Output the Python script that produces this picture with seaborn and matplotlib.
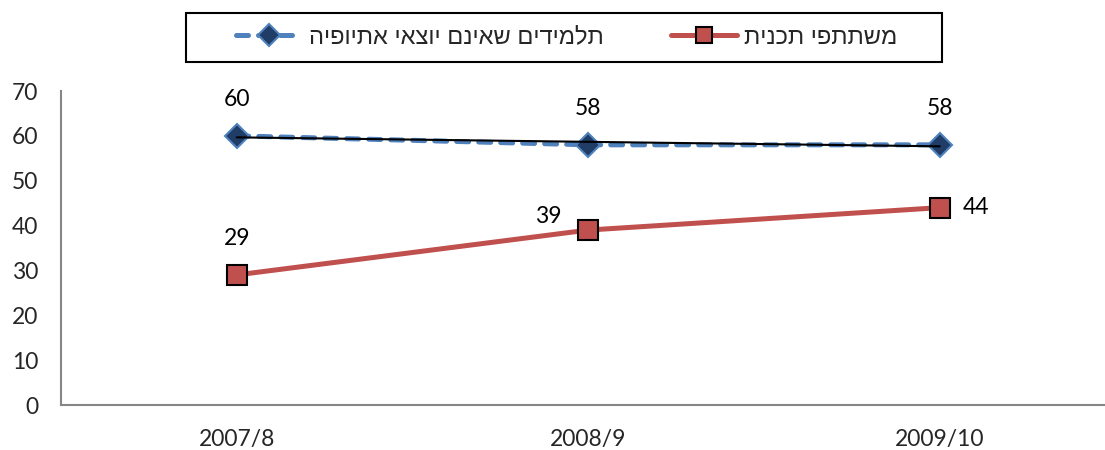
import numpy as np
import matplotlib
matplotlib.use("Agg")
import matplotlib.pyplot as plt
import seaborn as sns
from matplotlib.lines import Line2D
from matplotlib.patches import Rectangle

years = ["2007/8", "2008/9", "2009/10"]
program = [29, 39, 44]
non_ethiopian = [60, 58, 58]
label_program = "משתתפי תכנית"
label_non_eth = "תלמידים שאינם יוצאי אתיופיה"
y_ticks = [0, 10, 20, 30, 40, 50, 60, 70]

sns.set_theme(style="white")
plt.rcParams["font.family"] = ["Lato", "DejaVu Sans"]

def vis(s):
    # matplotlib has no bidi support: present Hebrew in visual order
    return s[::-1]

W, H = 1105, 450
fig = plt.figure(figsize=(W / 100, H / 100), dpi=100)
ax = fig.add_axes([61 / W, 45 / H, 1 - 61 / W, (405 - 91) / H])

x = np.arange(len(years))
red = "#C0504D"
blue = "#4F81BD"
navy = "#1F3D66"
blue_dash = (0, (2.4, 2.0))

sns.lineplot(x=x, y=non_ethiopian, ax=ax, color=blue, lw=3.6,
             marker="D", markersize=12,
             markerfacecolor=navy, markeredgecolor=blue, markeredgewidth=1.5,
             zorder=3, errorbar=None)
line_blue = ax.lines[-1]
line_blue.set_linestyle(blue_dash)
line_blue.set_dash_capstyle("round")
# linear trendline of the non-Ethiopian series
coef = np.polyfit(x, non_ethiopian, 1)
ax.plot(x, np.polyval(coef, x), color="black", lw=1.5, zorder=4)

sns.lineplot(x=x, y=program, ax=ax, color=red, lw=3.6, marker="s", markersize=14,
             markerfacecolor=red, markeredgecolor="black", markeredgewidth=1.5,
             zorder=5, errorbar=None)

fs = 16.5
for xi, v in zip(x, non_ethiopian):
    ax.annotate(str(v), (xi, v), xytext=(0, 26), textcoords="offset points",
                ha="center", va="center", fontsize=fs, color="black")
offsets = [((0, 26.5), "center"), ((-19, 9.5), "right"), ((16.5, 0), "left")]
for (off, ha), xi, v in zip(offsets, x, program):
    ax.annotate(str(v), (xi, v), xytext=off, textcoords="offset points",
                ha=ha, va="center", fontsize=fs, color="black")

ax.set_ylim(0, 70)
ax.set_yticks(y_ticks)
ax.set_xlim(-0.5, 2.47)
ax.set_xticks(x)
ax.set_xticklabels(years)
ax.set_xticks([-0.5, 0.5, 1.5], minor=True)
ax.tick_params(axis="x", which="major", length=0, pad=17, labelsize=fs)
ax.tick_params(axis="x", which="minor", length=5.5, width=1.2, color="#868686", direction="out")
ax.tick_params(axis="y", length=5.5, width=1.2, color="#868686", direction="out",
               labelsize=fs, pad=11)
for s in ["top", "right"]:
    ax.spines[s].set_visible(False)
for s in ["left", "bottom"]:
    ax.spines[s].set_color("#868686")
    ax.spines[s].set_linewidth(1.5)
ax.set_xlabel("")
ax.set_ylabel("")

h_blue = Line2D([], [], color=blue, lw=3.6, linestyle=blue_dash, dash_capstyle="round",
                marker="D", markersize=11, markerfacecolor=navy, markeredgecolor=blue,
                markeredgewidth=1.5)
h_red = Line2D([], [], color=red, lw=3.6, marker="s", markersize=12,
               markerfacecolor=red, markeredgecolor="black", markeredgewidth=1.5)
leg = fig.legend([h_blue, h_red], [vis(label_non_eth), vis(label_program)],
                 loc="center left", bbox_to_anchor=(236 / W, 1 - 37.5 / H), ncol=2,
                 frameon=False, handlelength=2.8, handletextpad=0.3, columnspacing=2.85,
                 borderpad=0, borderaxespad=0,
                 prop={"family": ["Liberation Sans", "DejaVu Sans"], "size": 17})
# legend box
fig.add_artist(Rectangle((186 / W, 1 - 62 / H), 756 / W, 49 / H, transform=fig.transFigure,
                         fill=False, edgecolor="black", lw=1.5, zorder=0))

fig.savefig("out.png", dpi=100, facecolor="white")
